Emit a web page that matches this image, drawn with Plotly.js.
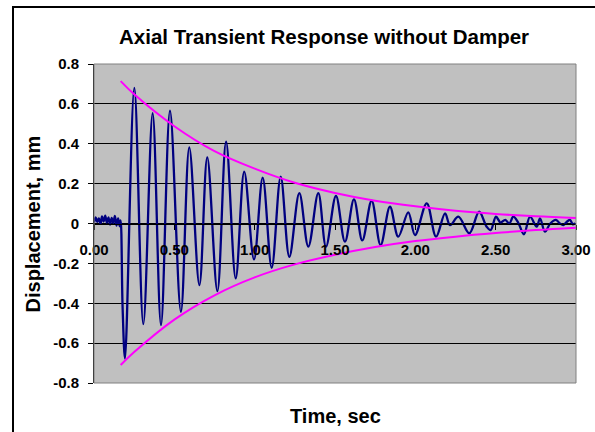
<!DOCTYPE html>
<html>
<head>
<meta charset="utf-8">
<script src="https://cdn.plot.ly/plotly-3.0.1.min.js"></script>
<style>
  html, body { margin: 0; padding: 0; background: #ffffff; overflow: hidden; }
  #frame { position: absolute; left: 12px; top: 6px; width: 700px; height: 600px;
           border-left: 2px solid #000; border-top: 2px solid #000; box-sizing: border-box; }
  #chart { position: absolute; left: 0; top: 0; width: 595px; height: 432px; }
</style>
</head>
<body>
<div id="frame"></div>
<div id="chart"></div>
<script>
// Measured axial displacement (mm) against time (s), no damper fitted
const timeSec = [
  0.000, 0.010, 0.020, 0.030, 0.040, 0.050, 0.060, 0.070, 0.080, 0.090,
  0.100, 0.110, 0.120, 0.130, 0.140, 0.150, 0.160, 0.166, 0.178, 0.193,
  0.251, 0.307, 0.365, 0.417, 0.473, 0.541, 0.593, 0.656, 0.705, 0.768,
  0.822, 0.882, 0.935, 0.996, 1.050, 1.106, 1.162, 1.216, 1.278, 1.334,
  1.396, 1.444, 1.506, 1.562, 1.618, 1.670, 1.728, 1.784, 1.842, 1.894,
  1.956, 1.998, 2.071, 2.129, 2.185, 2.216, 2.268, 2.336, 2.397, 2.444,
  2.469, 2.502, 2.530, 2.560, 2.585, 2.610, 2.640, 2.676, 2.714, 2.755,
  2.776, 2.807, 2.840, 2.875, 2.900, 2.921, 2.945, 2.963, 2.980, 2.994
];
const displacementMm = [
  0.005, 0.030, 0.008, 0.025, -0.002, 0.035, 0.010, 0.040, 0.004, 0.030,
  -0.006, 0.028, 0.002, 0.038, -0.010, 0.025, -0.014, 0.015, -0.420, -0.677,
  0.680, -0.505, 0.553, -0.510, 0.566, -0.443, 0.382, -0.309, 0.332, -0.339,
  0.410, -0.275, 0.260, -0.180, 0.230, -0.222, 0.235, -0.167, 0.152, -0.116,
  0.152, -0.116, 0.138, -0.091, 0.121, -0.085, 0.114, -0.108, 0.084, -0.066,
  0.056, -0.058, 0.101, -0.066, 0.051, -0.008, 0.034, -0.049, 0.059, -0.016,
  -0.033, 0.034, 0.005, 0.018, 0.000, 0.034, 0.005, -0.054, 0.034, -0.016,
  0.026, -0.041, 0.000, 0.018, 0.000, -0.008, 0.010, 0.018, -0.004, 0.002
];

// Decay envelope bounding the response
const envelopeTime  = [0.166, 0.25, 0.50, 0.75, 1.00, 1.25, 1.50, 1.75, 2.00, 2.25, 2.50, 2.75, 3.00];
const envelopeUpper = [0.714, 0.648, 0.488, 0.363, 0.275, 0.204, 0.153, 0.114, 0.086, 0.064, 0.048, 0.036, 0.028];
const envelopeLower = [-0.710, -0.645, -0.482, -0.360, -0.270, -0.205, -0.157, -0.118, -0.088, -0.066, -0.048, -0.033, -0.021];

// Axis ticks
const xTickVals = [0, 0.5, 1.0, 1.5, 2.0, 2.5, 3.0];
const xTickText = ["0.00", "0.50", "1.00", "1.50", "2.00", "2.50", "3.00"];
const yTickVals = [0.8, 0.6, 0.4, 0.2, 0, -0.2, -0.4, -0.6, -0.8];
const yTickText = ["0.8", "0.6", "0.4", "0.2", "0", "-0.2", "-0.4", "-0.6", "-0.8"];

const FONT = "'Liberation Sans', Arial, Helvetica, sans-serif";

const traces = [
  {
    x: timeSec, y: displacementMm, type: "scatter", mode: "lines",
    line: { color: "#000080", width: 2.3, shape: "spline", smoothing: 1.0 },
    hoverinfo: "skip"
  },
  {
    x: envelopeTime, y: envelopeUpper, type: "scatter", mode: "lines",
    line: { color: "#FF00FF", width: 2, shape: "spline" }, hoverinfo: "skip"
  },
  {
    x: envelopeTime, y: envelopeLower, type: "scatter", mode: "lines",
    line: { color: "#FF00FF", width: 2, shape: "spline" }, hoverinfo: "skip"
  }
];

const layout = {
  width: 595, height: 432,
  margin: { l: 94, r: 19, t: 64, b: 49, pad: 0 },
  paper_bgcolor: "rgba(0,0,0,0)",
  plot_bgcolor: "#C0C0C0",
  showlegend: false,
  font: { family: FONT, color: "#000000" },
  xaxis: {
    range: [0, 3], tickvals: xTickVals, ticktext: xTickText,
    anchor: "free", position: 0.5,
    showgrid: false, zeroline: false,
    showline: true, linecolor: "#000000", linewidth: 1,
    ticks: "outside", ticklen: 5, tickcolor: "#000000", tickwidth: 1,
    ticklabelstandoff: 7,
    tickfont: { family: FONT, size: 15, color: "#000000", weight: "bold" }
  },
  yaxis: {
    range: [-0.8, 0.8], tickvals: yTickVals, ticktext: yTickText,
    showgrid: true, gridcolor: "#000000", gridwidth: 1,
    zeroline: false,
    showline: true, linecolor: "#000000", linewidth: 1,
    ticks: "outside", ticklen: 5, tickcolor: "#000000", tickwidth: 1,
    ticklabelstandoff: 6,
    tickfont: { family: FONT, size: 15, color: "#000000", weight: "bold" }
  },
  shapes: [
    { type: "rect", xref: "paper", yref: "paper", x0: 0, x1: 1, y0: 0, y1: 1,
      line: { color: "#808080", width: 1 }, layer: "above" }
  ],
  annotations: [
    { text: "Axial Transient Response without Damper", xref: "paper", yref: "paper",
      x: 0.477, y: 1.085, xanchor: "center", yanchor: "middle", showarrow: false,
      font: { family: FONT, size: 20.5, color: "#000000", weight: "bold" } },
    { text: "Time, sec", xref: "paper", yref: "paper",
      x: 0.502, y: -0.102, xanchor: "center", yanchor: "middle", showarrow: false,
      font: { family: FONT, size: 20, color: "#000000", weight: "bold" } },
    { text: "Displacement, mm", xref: "paper", yref: "paper",
      x: -0.1266, y: 0.5, xanchor: "center", yanchor: "middle", showarrow: false,
      textangle: -90,
      font: { family: FONT, size: 20, color: "#000000", weight: "bold" } }
  ]
};

Plotly.newPlot("chart", traces, layout, { staticPlot: true, displayModeBar: false });
</script>
</body>
</html>
